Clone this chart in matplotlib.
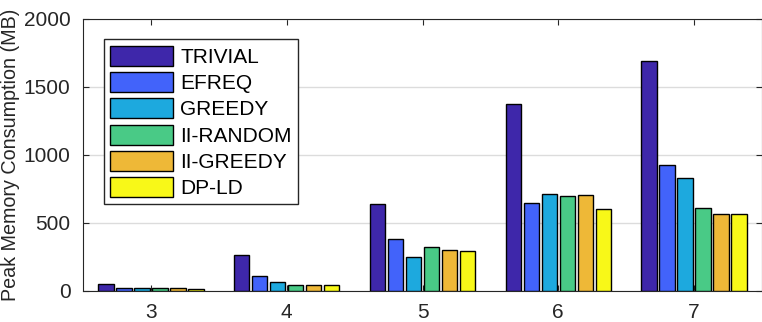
import numpy as np
import matplotlib
matplotlib.use("Agg")
import matplotlib.pyplot as plt

plt.rcParams['font.family'] = ['Liberation Sans', 'DejaVu Sans']

sizes = [3, 4, 5, 6, 7]
methods = ["TRIVIAL", "EFREQ", "GREEDY", "II-RANDOM", "II-GREEDY", "DP-LD"]
trivial = [49, 263, 638, 1374, 1692]
efreq = [20, 108, 380, 645, 927]
greedy = [20, 64, 250, 711, 829]
ii_random = [20, 42, 321, 697, 608]
ii_greedy = [20, 44, 299, 704, 564]
dp_ld = [15, 42, 292, 603, 564]
colors = ["#3E27AA", "#4263FA", "#1DA9DE", "#49CA86", "#EEB837", "#F8F818"]

series = [trivial, efreq, greedy, ii_random, ii_greedy, dp_ld]

fig = plt.figure(figsize=(7.62, 3.22), dpi=100)
ax = fig.add_axes([83 / 762, 31 / 322, 679 / 762, 272 / 322])

x = np.array(sizes)
step = 0.1324
w = 0.113
for i, (vals, name, c) in enumerate(zip(series, methods, colors)):
    ax.bar(x + (i - 2.5) * step, vals, width=w, color=c, edgecolor="black",
           linewidth=1.0, label=name, zorder=3)

ax.set_xlim(2.5, 7.5)
ax.set_ylim(0, 2000)
ax.set_xticks(sizes)
ax.set_yticks([0, 500, 1000, 1500, 2000])
ax.yaxis.grid(True, color="#dcdcdc", linewidth=1, zorder=0)
ax.tick_params(direction="in", top=True, right=True, labelsize=15, colors="#262626",
               length=4, pad=9)
for s in ax.spines.values():
    s.set_color("#262626")
ax.set_ylabel("Peak Memory Consumption (MB)", fontsize=14.2, color="#262626")
ax.yaxis.set_label_coords(-0.093, 0.5)

leg = ax.legend(loc="upper left", bbox_to_anchor=(0.031, 0.925), fontsize=15,
                handlelength=3.0, handleheight=1.1, labelspacing=0.25,
                handletextpad=0.35, borderpad=0.3, borderaxespad=0,
                fancybox=False, framealpha=1, edgecolor="#262626")
leg.get_frame().set_linewidth(1.0)

plt.savefig("out.png", dpi=100)
